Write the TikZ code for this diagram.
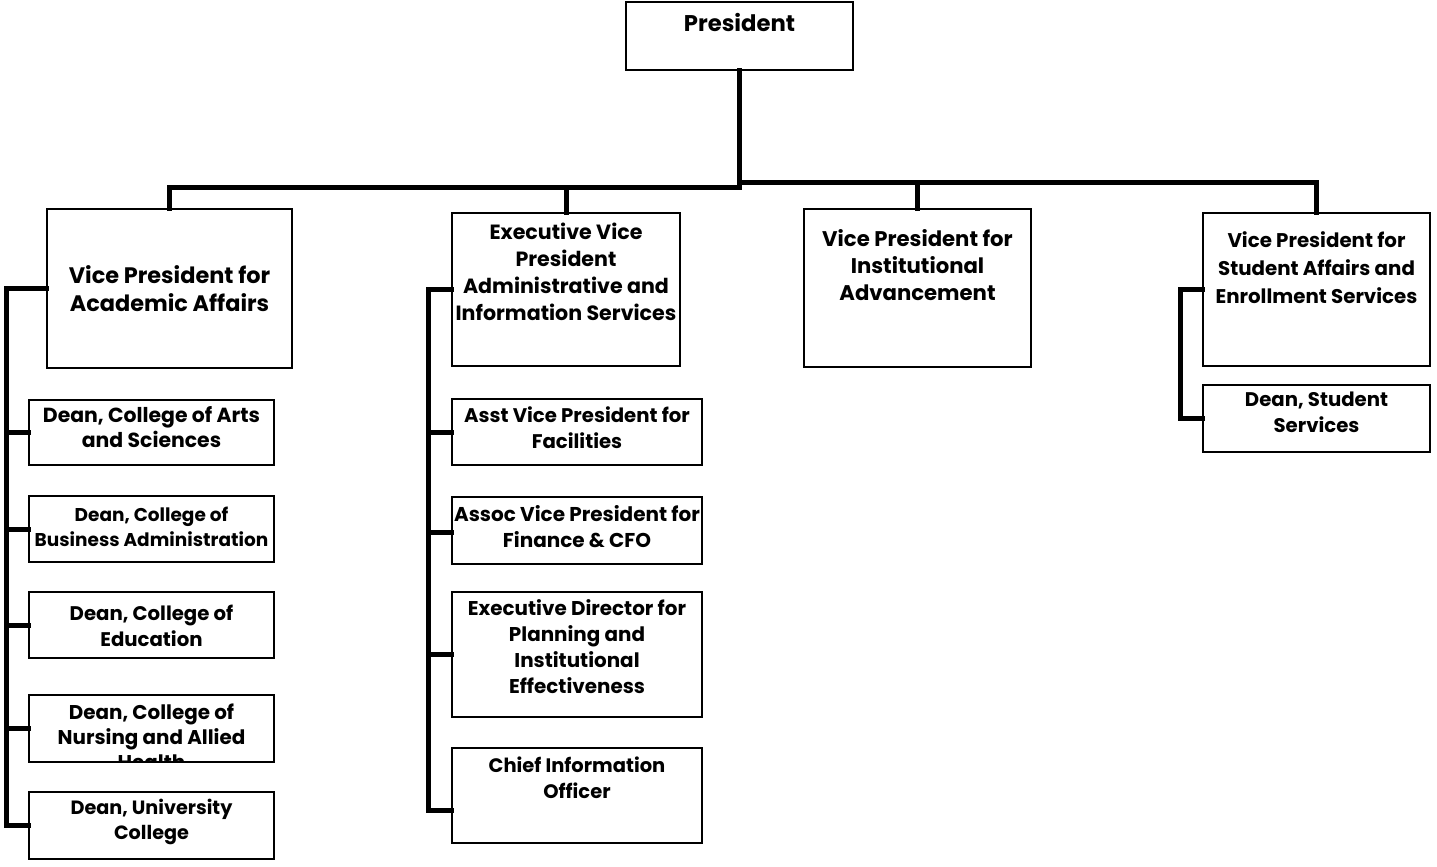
\documentclass[tikz,border=0pt]{standalone}
\usepackage{fontspec}
\setmainfont{Poppins}
\usetikzlibrary{calc}
\tikzset{
  box/.style={draw=black, line width=1.2pt, fill=white, inner sep=0pt, minimum width=#1},
  box/.default=227pt,
  conn/.style={line width=5pt, line join=miter, line cap=rect},
  lbl/.style 2 args={anchor=north, inner sep=0pt, align=center, font=\fontsize{#1}{#2}\selectfont\bfseries}
}
\begin{document}
\begin{tikzpicture}[x=1pt,y=-1pt]
\useasboundingbox (0,0) rectangle (1437,867);
\coordinate (busL) at (0,187);
\coordinate (busR) at (0,182);
\coordinate (aaX) at (6,0);
\coordinate (evX) at (428,0);
\coordinate (saX) at (1180,0);
% boxes
\node[box=227pt, minimum height=68pt] (pres) at (739.5,36) {};
\node[box=245pt, minimum height=159pt] (vpaa) at (169.5,288.5) {};
\node[box=228pt, minimum height=153pt] (evp) at (566,289.5) {};
\node[box=227pt, minimum height=158pt] (vpia) at (917.5,288) {};
\node[box=227pt, minimum height=153pt] (vpsa) at (1316.5,289.5) {};
\node[box=227pt, minimum height=67pt] (dss) at (1316.5,418.5) {};
\node[box=245pt, minimum height=65pt] (arts) at (151.5,432.5) {};
\node[box=245pt, minimum height=66pt] (bus) at (151.5,529) {};
\node[box=245pt, minimum height=66pt] (edu) at (151.5,625) {};
\node[box=245pt, minimum height=67pt] (nurs) at (151.5,728.5) {};
\node[box=245pt, minimum height=67pt] (univ) at (151.5,825.5) {};
\node[box=250pt, minimum height=66pt] (fac) at (577,432) {};
\node[box=250pt, minimum height=67pt] (fin) at (577,530.5) {};
\node[box=250pt, minimum height=125pt] (ped) at (577,654.5) {};
\node[box=250pt, minimum height=95pt] (cio) at (577,795.5) {};
% main connectors
\draw[conn] (pres.south) -- (pres.south |- busL);
\draw[conn] (vpaa.north) |- (pres.south |- busL);
\draw[conn] (evp.north) -- (evp.north |- busL);
\draw[conn] (vpsa.north) |- (pres.south |- busR);
\draw[conn] (vpia.north) -- (vpia.north |- busR);
% academic affairs
\draw[conn] (vpaa.west) -| (aaX |- univ.west) -- (univ.west);
\draw[conn] (aaX |- arts.west) -- (arts.west);
\draw[conn] (aaX |- bus.west) -- (bus.west);
\draw[conn] (aaX |- edu.west) -- (edu.west);
\draw[conn] (aaX |- nurs.west) -- (nurs.west);
% administrative and information services
\coordinate (cioc) at ($(cio.west)+(0,14.5)$);
\coordinate (finc) at ($(fin.west)+(0,1.5)$);
\draw[conn] (evp.west) -| (evX |- cioc) -- (cioc);
\draw[conn] (evX |- fac.west) -- (fac.west);
\draw[conn] (evX |- finc) -- (finc);
\draw[conn] (evX |- ped.west) -- (ped.west);
% student affairs
\draw[conn] (vpsa.west) -| (saX |- dss.west) -- (dss.west);
% box outlines over connector ends
\foreach \n in {pres,vpaa,evp,vpia,vpsa,dss,arts,bus,edu,nurs,univ,fac,fin,ped,cio}{
  \draw[line width=1.2pt] (\n.north west) rectangle (\n.south east);
}
% labels
\node[lbl={22.7}{27}] (tpres) at (739.5,13.5) {President};
\node[lbl={22.4}{28}] (tvpaa) at (169.5,265.8) {Vice President for\\Academic Affairs};
\node[lbl={20.6}{27.2}] (tevp) at (566,222.5) {Executive Vice\\President\\Administrative and\\Information Services};
\node[lbl={21.2}{27}] (tvpia) at (917.5,229) {Vice President for\\Institutional\\Advancement};
\node[lbl={19.8}{28}] (tvpsa) at (1316.5,231) {Vice President for\\Student Affairs and\\Enrollment Services};
\node[lbl={19.7}{26.5}] (tdss) at (1316.5,391.3) {Dean, Student\\Services};
\node[lbl={20.4}{25}] (tarts) at (151.5,406.5) {Dean, College of Arts\\and Sciences};
\node[lbl={18.5}{25.5}] (tbus) at (151.5,506.3) {Dean, College of\\Business Administration};
\node[lbl={19.7}{26}] (tedu) at (151.5,605) {Dean, College of\\Education};
\begin{scope}
\clip (nurs.north west) rectangle (nurs.south east);
\node[lbl={19.9}{25}] (tnurs) at (151.5,703.3) {Dean, College of\\Nursing and Allied\\Health};
\end{scope}
\node[lbl={19.2}{25}] (tuniv) at (151.5,799.3) {Dean, University\\College};
\node[lbl={19.7}{26}] (tfac) at (577,406.3) {Asst Vice President for\\Facilities};
\node[lbl={20}{26}] (tfin) at (577,505.7) {Assoc Vice President for\\Finance \& CFO};
\node[lbl={19.9}{26}] (tped) at (577,599.8) {Executive Director for\\Planning and\\Institutional\\Effectiveness};
\node[lbl={19.5}{25.5}] (tcio) at (577,756.8) {Chief Information\\Officer};
\end{tikzpicture}
\end{document}
